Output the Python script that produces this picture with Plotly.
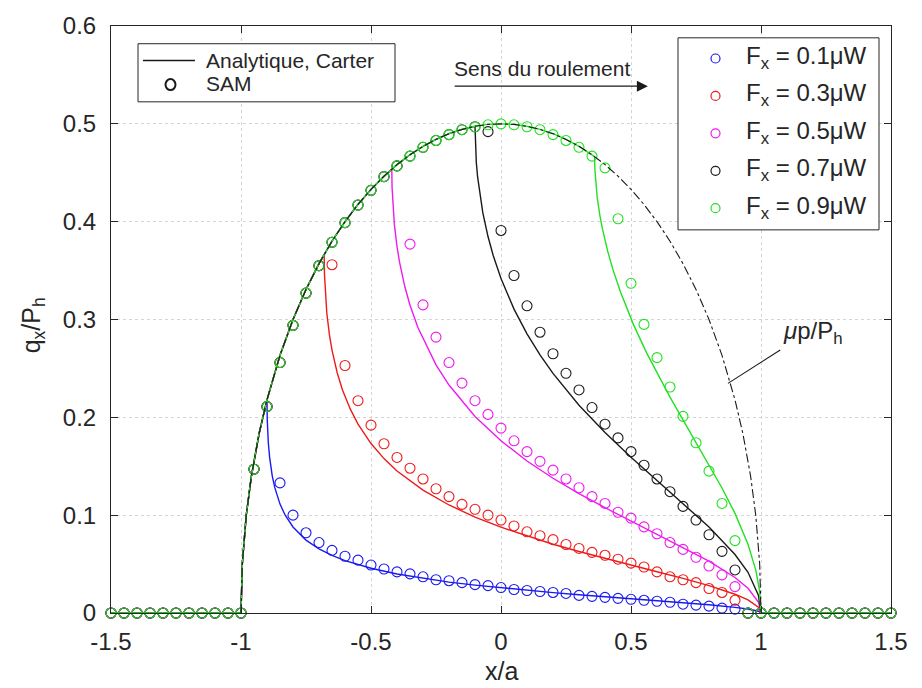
import plotly.graph_objects as go

# ---- SAM results: x/a grid and q_x/P_h for each tangential load ----
x_sam = [-1.5, -1.45, -1.4, -1.35, -1.3, -1.25, -1.2, -1.15, -1.1, -1.05,
         -1.0, -0.95, -0.9, -0.85, -0.8, -0.75, -0.7, -0.65, -0.6, -0.55,
         -0.5, -0.45, -0.4, -0.35, -0.3, -0.25, -0.2, -0.15, -0.1, -0.05,
         0.0, 0.05, 0.1, 0.15, 0.2, 0.25, 0.3, 0.35, 0.4, 0.45,
         0.5, 0.55, 0.6, 0.65, 0.7, 0.75, 0.8, 0.85, 0.9, 0.95,
         1.0, 1.05, 1.1, 1.15, 1.2, 1.25, 1.3, 1.35, 1.4, 1.45, 1.5]

zeros_out = [0.0] * 10

sam_01 = zeros_out + [0, 0.147, 0.211, 0.133, 0.100, 0.082, 0.072, 0.064, 0.058, 0.054,
                      0.049, 0.045, 0.042, 0.040, 0.037, 0.034, 0.033, 0.031, 0.029, 0.028,
                      0.026, 0.024, 0.023, 0.022, 0.021, 0.020, 0.018, 0.017, 0.016, 0.015,
                      0.014, 0.013, 0.012, 0.011, 0.009, 0.008, 0.007, 0.005, 0.004, 0, 0] + zeros_out
sam_03 = zeros_out + [0, 0.147, 0.211, 0.256, 0.294, 0.327, 0.355, 0.356, 0.253, 0.217,
                      0.192, 0.173, 0.159, 0.148, 0.137, 0.127, 0.119, 0.111, 0.106, 0.100,
                      0.095, 0.089, 0.083, 0.079, 0.075, 0.070, 0.066, 0.062, 0.059, 0.055,
                      0.051, 0.047, 0.042, 0.037, 0.034, 0.031, 0.025, 0.021, 0.013, 0, 0] + zeros_out
sam_05 = zeros_out + [0, 0.147, 0.211, 0.256, 0.294, 0.327, 0.355, 0.379, 0.399, 0.417,
                      0.432, 0.446, 0.457, 0.377, 0.315, 0.282, 0.256, 0.235, 0.217, 0.203,
                      0.189, 0.176, 0.165, 0.155, 0.146, 0.137, 0.128, 0.119, 0.112, 0.103,
                      0.097, 0.088, 0.081, 0.072, 0.065, 0.057, 0.048, 0.039, 0.027, 0, 0] + zeros_out
sam_07 = zeros_out + [0, 0.147, 0.211, 0.256, 0.294, 0.327, 0.355, 0.379, 0.399, 0.417,
                      0.432, 0.446, 0.457, 0.467, 0.476, 0.483, 0.489, 0.494, 0.497, 0.492,
                      0.391, 0.345, 0.314, 0.287, 0.265, 0.245, 0.228, 0.210, 0.193, 0.179,
                      0.165, 0.151, 0.137, 0.124, 0.109, 0.095, 0.080, 0.063, 0.044, 0, 0] + zeros_out
sam_09 = zeros_out + [0, 0.147, 0.211, 0.256, 0.294, 0.327, 0.355, 0.379, 0.399, 0.417,
                      0.432, 0.446, 0.457, 0.467, 0.476, 0.483, 0.489, 0.494, 0.497, 0.499,
                      0.500, 0.499, 0.497, 0.494, 0.489, 0.483, 0.476, 0.467, 0.455, 0.403,
                      0.337, 0.295, 0.261, 0.231, 0.201, 0.174, 0.145, 0.112, 0.074, 0, 0] + zeros_out

# ---- Analytical (Carter) tangential traction curves ----
x_c01 = [-1.5, -1, -0.995, -0.98, -0.96, -0.93, -0.9, -0.899, -0.895, -0.89, -0.88, -0.87,
         -0.85, -0.83, -0.8, -0.75, -0.7, -0.65, -0.6, -0.5, -0.4, -0.3, -0.2, -0.1,
         0, 0.1, 0.2, 0.3, 0.4, 0.5, 0.6, 0.7, 0.8, 0.9, 0.95, 0.99, 1, 1.5]
q_c01 = [0, 0, 0.0499, 0.0995, 0.140, 0.1838, 0.2179, 0.1972, 0.1743, 0.1593, 0.1405, 0.1281,
         0.1113, 0.0999, 0.0879, 0.0745, 0.0655, 0.0588, 0.0536, 0.0457, 0.0399, 0.0354, 0.0316, 0.0285,
         0.0257, 0.0231, 0.0208, 0.0187, 0.0167, 0.0147, 0.0127, 0.0107, 0.0085, 0.0058, 0.0041, 0.0018, 0, 0]

x_c03 = [-1.5, -1, -0.995, -0.98, -0.96, -0.93, -0.9, -0.85, -0.8, -0.75, -0.7, -0.68,
         -0.679, -0.675, -0.67, -0.66, -0.65, -0.63, -0.61, -0.58, -0.55, -0.5, -0.45, -0.4,
         -0.3, -0.2, -0.1, 0, 0.1, 0.2, 0.3, 0.4, 0.5, 0.6, 0.7, 0.8, 0.9, 0.95, 0.99, 1, 1.5]
q_c03 = [0, 0, 0.0499, 0.0995, 0.140, 0.1838, 0.2179, 0.2634, 0.300, 0.3307, 0.3571, 0.3666,
         0.3466, 0.3232, 0.3066, 0.2845, 0.2687, 0.2456, 0.2283, 0.2086, 0.1931, 0.1732, 0.1578, 0.1452,
         0.1256, 0.1104, 0.0981, 0.0877, 0.0786, 0.0703, 0.0629, 0.0558, 0.0489, 0.0422, 0.0354, 0.0280,
         0.0192, 0.0134, 0.0059, 0, 0]

x_c05 = [-1.5, -1, -0.995, -0.98, -0.96, -0.93, -0.9, -0.85, -0.8, -0.75, -0.7, -0.65, -0.6,
         -0.55, -0.5, -0.45, -0.42, -0.419, -0.415, -0.41, -0.4, -0.39, -0.37, -0.35, -0.32,
         -0.25, -0.2, -0.1, 0, 0.1, 0.2, 0.3, 0.4, 0.5, 0.6, 0.7, 0.8, 0.9, 0.95, 0.99, 1, 1.5]
q_c05 = [0, 0, 0.0499, 0.0995, 0.140, 0.1838, 0.2179, 0.2634, 0.300, 0.3307, 0.3571, 0.3800, 0.400,
         0.4176, 0.4330, 0.4465, 0.4538, 0.4351, 0.4129, 0.3967, 0.3746, 0.3583, 0.3337, 0.3146, 0.2921,
         0.2536, 0.2330, 0.2008, 0.1760, 0.1554, 0.1377, 0.1220, 0.1076, 0.0939, 0.0806, 0.0672, 0.0530,
         0.0363, 0.0253, 0.0112, 0, 0]

x_c07 = [-1.5, -1, -0.995, -0.98, -0.96, -0.93, -0.9, -0.85, -0.8, -0.75, -0.7, -0.65, -0.6,
         -0.55, -0.5, -0.45, -0.4, -0.35, -0.3, -0.25, -0.2, -0.15, -0.1, -0.099, -0.095,
         -0.09, -0.08, -0.07, -0.05, -0.03, 0, 0.05, 0.1, 0.15, 0.2, 0.3, 0.4, 0.5, 0.6,
         0.7, 0.8, 0.9, 0.95, 0.99, 1, 1.5]
q_c07 = [0, 0, 0.0499, 0.0995, 0.140, 0.1838, 0.2179, 0.2634, 0.300, 0.3307, 0.3571, 0.3800, 0.400,
         0.4176, 0.4330, 0.4465, 0.4583, 0.4684, 0.4770, 0.4841, 0.4899, 0.4943, 0.4975, 0.4810, 0.4607,
         0.4457, 0.4249, 0.4092, 0.3848, 0.3655, 0.3419, 0.3106, 0.2854, 0.2639, 0.2449, 0.2124, 0.1844,
         0.1591, 0.1354, 0.1121, 0.0879, 0.0598, 0.0416, 0.0183, 0, 0]

x_c09 = [-1.5, -1, -0.995, -0.98, -0.96, -0.93, -0.9, -0.85, -0.8, -0.75, -0.7, -0.65, -0.6,
         -0.55, -0.5, -0.45, -0.4, -0.35, -0.3, -0.25, -0.2, -0.15, -0.1, -0.05, 0, 0.05,
         0.1, 0.15, 0.2, 0.25, 0.3, 0.36, 0.361, 0.365, 0.37, 0.38, 0.39, 0.41, 0.43, 0.46,
         0.51, 0.56, 0.6, 0.65, 0.7, 0.75, 0.8, 0.85, 0.9, 0.95, 0.98, 0.99, 0.995, 1, 1.5]
q_c09 = [0, 0, 0.0499, 0.0995, 0.140, 0.1838, 0.2179, 0.2634, 0.300, 0.3307, 0.3571, 0.3800, 0.400,
         0.4176, 0.4330, 0.4465, 0.4583, 0.4684, 0.4770, 0.4841, 0.4899, 0.4943, 0.4975, 0.4994, 0.5, 0.4994,
         0.4975, 0.4943, 0.4899, 0.4841, 0.4770, 0.4665, 0.4537, 0.4373, 0.4248, 0.4068, 0.3928, 0.3701,
         0.3515, 0.3278, 0.2945, 0.2659, 0.2451, 0.2207, 0.1974, 0.1746, 0.1517, 0.1278, 0.1018, 0.0702,
         0.0438, 0.0309, 0.0218, 0, 0]

# ---- Sliding limit mu*p/P_h (Hertz) ----
x_mu = [-1, -0.995, -0.98, -0.96, -0.93, -0.9, -0.85, -0.8, -0.75, -0.7, -0.65, -0.6, -0.55,
        -0.5, -0.45, -0.4, -0.35, -0.3, -0.25, -0.2, -0.15, -0.1, -0.05, 0, 0.05, 0.1, 0.15,
        0.2, 0.25, 0.3, 0.35, 0.4, 0.45, 0.5, 0.55, 0.6, 0.65, 0.7, 0.75, 0.8, 0.85, 0.9,
        0.93, 0.96, 0.98, 0.995, 1]
q_mu = [0, 0.0499, 0.0995, 0.140, 0.1838, 0.2179, 0.2634, 0.300, 0.3307, 0.3571, 0.3800, 0.400, 0.4176,
        0.4330, 0.4465, 0.4583, 0.4684, 0.4770, 0.4841, 0.4899, 0.4943, 0.4975, 0.4994, 0.5, 0.4994, 0.4975,
        0.4943, 0.4899, 0.4841, 0.4770, 0.4684, 0.4583, 0.4465, 0.4330, 0.4176, 0.400, 0.3800, 0.3571,
        0.3307, 0.300, 0.2634, 0.2179, 0.1838, 0.140, 0.0995, 0.0499, 0]

load_labels = ["F<sub>x</sub> = 0.1μW", "F<sub>x</sub> = 0.3μW", "F<sub>x</sub> = 0.5μW",
               "F<sub>x</sub> = 0.7μW", "F<sub>x</sub> = 0.9μW"]
colors = ["#1a1aee", "#ee1a1a", "#ee1aee", "#1a1a1a", "#22e022"]

x_ticks = [-1.5, -1, -0.5, 0, 0.5, 1, 1.5]
x_ticktext = ["-1.5", "-1", "-0.5", "0", "0.5", "1", "1.5"]
y_ticks = [0, 0.1, 0.2, 0.3, 0.4, 0.5, 0.6]
y_ticktext = ["0", "0.1", "0.2", "0.3", "0.4", "0.5", "0.6"]

FONT = "Liberation Sans, Arial, sans-serif"
TXT = "#262626"
INK = "#1a1a1a"

# figure geometry (pixels) used to place the legend boxes
W, H = 922, 688
ML, MR, MT, MB = 111, 31, 17, 75
PW, PH = W - ML - MR, H - MT - MB


def px(xp):
    return (xp - ML) / PW


def py(yp):
    return (H - MB - yp) / PH


fig = go.Figure()

curves = [(x_c01, q_c01), (x_c03, q_c03), (x_c05, q_c05), (x_c07, q_c07), (x_c09, q_c09)]
sams = [sam_01, sam_03, sam_05, sam_07, sam_09]

for (xc, qc), sam, col, lab in zip(curves, sams, colors, load_labels):
    fig.add_trace(go.Scatter(x=xc, y=qc, mode="lines", line=dict(color=col, width=1.4),
                             name=lab + " (Carter)", showlegend=False, cliponaxis=False))
    fig.add_trace(go.Scatter(x=x_sam, y=sam, mode="markers", name=lab, showlegend=False,
                             marker=dict(symbol="circle-open", size=10, color=col,
                                         line=dict(width=1.1, color=col)),
                             cliponaxis=False))

fig.add_trace(go.Scatter(x=x_mu, y=q_mu, mode="lines", showlegend=False, name="μp/P_h",
                         line=dict(color=INK, width=1.1, dash="dashdot")))

# ---- legend of the methods (top left) ----
fig.add_shape(type="rect", xref="paper", yref="paper", x0=px(138), x1=px(395), y0=py(94), y1=py(35),
              line=dict(color=TXT, width=1), fillcolor="white", layer="above")
fig.add_shape(type="line", xref="paper", yref="paper", x0=px(143), x1=px(195), y0=py(52), y1=py(52),
              line=dict(color=INK, width=1.4), layer="above")
fig.add_shape(type="circle", xref="paper", yref="paper", xsizemode="pixel", ysizemode="pixel",
              xanchor=px(170.5), yanchor=py(76.5), x0=-5, x1=5, y0=-5.5, y1=5.5,
              line=dict(color=INK, width=2), layer="above")
for txt, yy in [("Analytique, Carter", 52), ("SAM", 75.5)]:
    fig.add_annotation(x=px(204), y=py(yy), xref="paper", yref="paper", text=txt, showarrow=False,
                       xanchor="left", yanchor="middle", font=dict(family=FONT, size=21, color=TXT))

# ---- legend of the loads (top right) ----
fig.add_shape(type="rect", xref="paper", yref="paper", x0=px(678), x1=px(879), y0=py(224), y1=py(29),
              line=dict(color=TXT, width=1), fillcolor="white", layer="above")
row_y = [50, 88, 126, 164, 202]
for col, lab, yy in zip(colors, load_labels, row_y):
    fig.add_shape(type="circle", xref="paper", yref="paper", xsizemode="pixel", ysizemode="pixel",
                  xanchor=px(715.5), yanchor=py(yy), x0=-4.5, x1=4.5, y0=-4.5, y1=4.5,
                  line=dict(color=col, width=1.2), layer="above")
    fig.add_annotation(x=px(744), y=py(yy - 1), xref="paper", yref="paper", text=lab, showarrow=False,
                       xanchor="left", yanchor="middle", font=dict(family=FONT, size=24, color=TXT))

# rolling direction
fig.add_annotation(x=0.565, y=0.5385, ax=-0.184, ay=0.5385, xref="x", yref="y",
                   axref="x", ayref="y", text="", showarrow=True,
                   arrowhead=2, arrowsize=1.7, arrowwidth=1.3, arrowcolor=INK)
fig.add_annotation(x=-0.188, y=0.5566, xref="x", yref="y", text="Sens du roulement",
                   showarrow=False, xanchor="left", yanchor="middle",
                   font=dict(family=FONT, size=21, color=TXT))

# label for the sliding limit
fig.add_shape(type="line", xref="x", yref="y", x0=1.074, y0=0.2689, x1=0.873, y1=0.2347,
              line=dict(color=INK, width=1.1))
fig.add_annotation(x=1.076, y=0.287, xref="x", yref="y", text="<i>μ</i>p/P<sub>h</sub>",
                   showarrow=False, xanchor="left", yanchor="middle",
                   font=dict(family=FONT, size=24, color=TXT))

# axis titles
fig.add_annotation(x=0.5, y=-0.098, xref="paper", yref="paper", text="x/a", showarrow=False,
                   xanchor="center", yanchor="middle", font=dict(family=FONT, size=25, color=TXT))
fig.add_annotation(x=-0.1, y=0.49, xref="paper", yref="paper", text="q<sub>x</sub>/P<sub>h</sub>",
                   showarrow=False, textangle=-90, xanchor="center", yanchor="middle",
                   font=dict(family=FONT, size=25, color=TXT))

axis_common = dict(showline=True, linecolor="#262626", linewidth=1, mirror="allticks",
                   ticks="inside", ticklen=7, tickcolor="#262626", tickwidth=1,
                   showgrid=True, gridcolor="#d4d4d4", griddash="dot", gridwidth=1,
                   zeroline=False, tickfont=dict(family=FONT, size=24, color=TXT))

fig.update_layout(
    width=W, height=H,
    margin=dict(l=ML, r=MR, t=MT, b=MB),
    paper_bgcolor="white", plot_bgcolor="white",
    font=dict(family=FONT, color=TXT),
    showlegend=False,
    xaxis=dict(range=[-1.5, 1.5], tickvals=x_ticks, ticktext=x_ticktext,
               ticklabelstandoff=7, **axis_common),
    yaxis=dict(range=[0, 0.6], tickvals=y_ticks, ticktext=y_ticktext,
               ticklabelstandoff=9, **axis_common),
)

fig.write_html("out.html")
